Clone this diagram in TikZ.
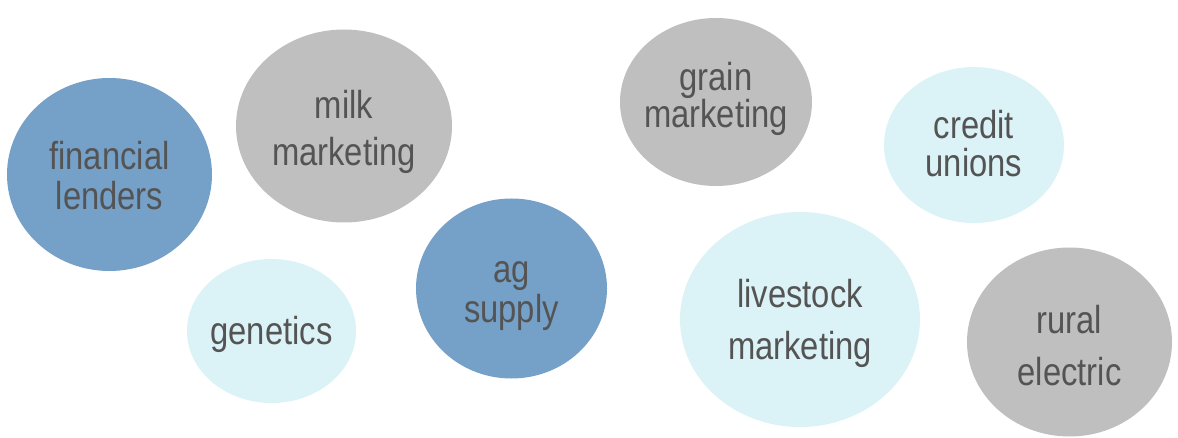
\documentclass[tikz,border=0pt]{standalone}
\usepackage{fontspec}
\setmainfont{Liberation Sans}[FakeStretch=0.84]
\usetikzlibrary{shapes.geometric}
\definecolor{cblue}{HTML}{75A1C9}
\definecolor{cgray}{HTML}{BFBFBF}
\definecolor{ccyan}{HTML}{DBF3F7}
\definecolor{ctext}{HTML}{545454}
\tikzset{
  bubble/.style={ellipse, inner sep=0pt, outer sep=0pt, draw=none},
  bblue/.style={bubble, fill=cblue},
  bgray/.style={bubble, fill=cgray},
  bcyan/.style={bubble, fill=ccyan},
  txt/.style={inner sep=0pt, text=ctext, align=center, font=\fontsize{39}{#1}\selectfont},
  txt/.default=40,
}
\begin{document}
\begin{tikzpicture}[x=1pt,y=-1pt]
\useasboundingbox (0,0) rectangle (1178,438);
\node[bblue, minimum width=205, minimum height=193] (fin) at (109.5,174.5) {};
\node[bgray, minimum width=216, minimum height=193] (milk) at (344,126) {};
\node[bcyan, minimum width=169, minimum height=144] (gen) at (271.5,331) {};
\node[bblue, minimum width=191, minimum height=180] (ag) at (511.5,288.5) {};
\node[bgray, minimum width=192, minimum height=168] (grain) at (716,102) {};
\node[bcyan, minimum width=180, minimum height=156] (credit) at (974,145) {};
\node[bcyan, minimum width=240, minimum height=215] (live) at (800,319.5) {};
\node[bgray, minimum width=205, minimum height=189] (rural) at (1069.5,342) {};
\node[txt=40] (fint) at ([yshift=-1]fin.center) {financial\\lenders};
\node[txt=47] (milkt) at ([yshift=-6]milk.center) {milk\\marketing};
\node[txt] (gent) at ([yshift=-3]gen.center) {genetics};
\node[txt=40] (agt) at ([yshift=-8]ag.center) {ag\\supply};
\node[txt=37] (graint) at ([yshift=3]grain.center) {grain\\marketing};
\node[txt=38] (creditt) at ([yshift=1]credit.center) {credit\\unions};
\node[txt=52] (livet) at ([yshift=-4]live.center) {livestock\\marketing};
\node[txt=52] (ruralt) at ([yshift=-4]rural.center) {rural\\electric};
\end{tikzpicture}
\end{document}
